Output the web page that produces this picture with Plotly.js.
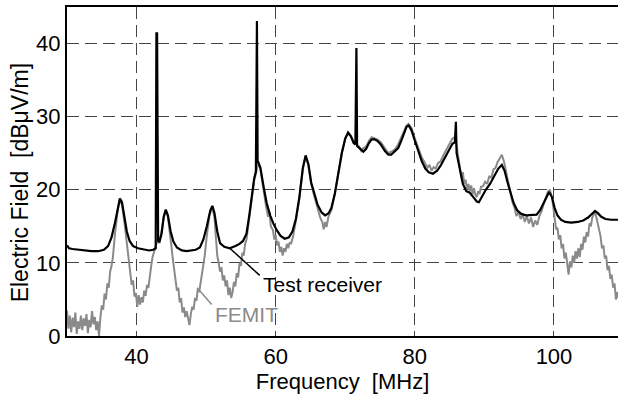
<!DOCTYPE html>
<html>
<head>
<meta charset="utf-8">
<script src="https://cdn.plot.ly/plotly-3.0.1.min.js"></script>
<style>html,body{margin:0;padding:0;background:#fff;overflow:hidden}#chart{width:618px;height:394px}</style>
</head>
<body>
<div id="chart"></div>
<script>
// Test receiver (black)
const freqRx = [30.0,30.3,30.8,31.5,32.5,33.5,34.5,35.3,35.9,36.4,36.9,37.3,37.6,37.9,38.2,38.6,39.0,39.5,40.2,41.0,41.8,42.4,42.75,42.85,42.95,43.1,43.3,43.6,43.9,44.2,44.5,44.9,45.3,45.8,46.5,47.2,47.9,48.5,49.1,49.6,50.1,50.6,50.9,51.2,51.6,52.0,52.6,53.4,54.2,54.8,55.3,55.8,56.2,56.6,56.9,57.15,57.2,57.3,57.4,57.8,58.3,58.7,59.2,59.7,60.2,60.7,61.3,61.9,62.4,62.9,63.4,63.9,64.3,64.7,65.1,65.5,66.0,66.6,67.1,67.6,68.0,68.5,69.0,69.5,70.0,70.4,70.8,71.2,71.45,71.5,71.6,71.7,72.1,72.6,73.0,73.4,73.8,74.2,74.6,75.1,75.7,76.2,76.6,77.1,77.6,78.0,78.4,78.8,79.1,79.5,80.0,80.5,81.0,81.5,82.0,82.6,83.2,83.7,84.2,84.8,85.4,85.75,85.8,85.9,86.0,86.4,86.9,87.4,87.9,88.4,88.9,89.2,89.6,90.2,90.8,91.4,92.0,92.5,92.9,93.3,93.7,94.2,94.7,95.3,96.0,96.8,97.5,98.0,98.5,99.0,99.3,99.7,100.1,100.5,101.0,101.6,102.5,103.4,104.2,104.9,105.5,105.9,106.3,106.8,107.4,108.2,109.2];
const fieldRx = [12.4,12.0,11.9,11.8,11.7,11.6,11.6,11.8,12.3,13.5,15.5,17.5,18.8,18.3,16.5,14.3,13.0,12.3,12.0,11.8,11.7,11.8,12.0,41.4,41.4,13.0,12.9,14.0,16.3,17.3,16.5,14.3,12.9,12.1,11.7,11.6,11.7,11.8,12.1,13.2,15.0,17.2,17.8,16.8,14.3,12.7,12.2,12.0,12.3,12.6,13.0,14.0,16.5,19.5,21.5,22.5,43.1,43.1,24.0,23.0,20.2,18.2,16.5,15.3,14.4,13.7,13.3,13.5,14.3,16.0,19.0,23.0,24.7,23.5,21.0,19.6,18.0,16.9,16.5,16.8,17.5,19.5,22.3,25.0,27.0,27.8,27.3,26.4,26.2,39.4,39.4,26.0,25.6,25.2,25.6,26.4,26.9,26.9,26.7,26.2,25.3,24.8,24.8,25.2,25.7,26.6,27.7,28.6,28.8,28.2,26.7,25.2,23.9,22.9,22.4,22.2,22.6,23.3,24.2,25.3,26.3,26.5,29.3,29.3,25.0,23.0,20.8,19.8,19.6,19.0,18.4,18.3,19.0,20.0,20.8,21.8,22.9,23.4,22.6,21.1,19.7,18.2,17.2,16.7,16.5,16.5,16.6,17.2,18.2,19.3,19.7,19.0,17.5,16.5,15.9,15.6,15.5,15.6,15.8,16.2,16.7,17.1,16.8,16.3,16.0,15.9,15.9];

// FEMIT (grey)
const freqFemit = [30.0,30.2,30.4,30.6,30.8,31.0,31.2,31.4,31.6,31.8,32.0,32.2,32.4,32.6,32.8,33.0,33.2,33.4,33.6,33.8,34.0,34.2,34.4,34.6,34.8,35.0,35.2,35.4,35.6,35.8,36.0,36.2,36.4,36.6,36.9,37.3,37.6,37.9,38.2,38.5,38.7,38.9,39.1,39.3,39.5,39.7,39.9,40.1,40.3,40.5,40.7,40.9,41.1,41.3,41.5,41.7,41.9,42.1,42.3,42.6,42.9,43.2,43.5,43.9,44.2,44.5,44.8,45.0,45.2,45.4,45.6,45.8,46.0,46.2,46.4,46.6,46.8,47.0,47.2,47.4,47.6,47.8,48.0,48.2,48.4,48.6,48.8,49.0,49.2,49.4,49.6,49.8,50.1,50.5,50.9,51.2,51.4,51.6,51.8,52.0,52.2,52.4,52.6,52.8,53.0,53.2,53.4,53.6,53.8,54.0,54.2,54.4,54.6,54.8,55.0,55.2,55.4,55.6,55.8,56.2,56.6,56.9,57.2,57.5,57.8,58.2,58.6,58.9,59.1,59.3,59.6,59.8,60.0,60.2,60.4,60.6,60.8,61.0,61.2,61.4,61.6,61.8,62.0,62.2,62.5,62.9,63.4,63.9,64.3,64.7,65.1,65.5,66.0,66.4,66.7,66.9,67.1,67.3,67.6,68.0,68.5,69.0,69.5,70.0,70.4,70.8,71.2,71.6,72.0,72.3,72.6,73.0,73.4,73.8,74.2,74.6,75.1,75.7,76.2,76.6,77.1,77.6,78.0,78.4,78.8,79.1,79.5,80.0,80.5,81.0,81.5,81.8,82.1,82.4,82.7,83.0,83.3,83.7,84.2,84.8,85.4,85.8,86.1,86.4,86.7,86.9,87.1,87.3,87.5,87.7,87.9,88.1,88.3,88.5,88.7,88.9,89.1,89.3,89.5,89.8,90.1,90.4,90.7,91.0,91.3,91.6,91.9,92.2,92.5,92.8,93.1,93.4,93.7,94.0,94.3,94.6,94.9,95.2,95.5,95.8,96.1,96.4,96.7,97.0,97.3,97.6,97.9,98.2,98.5,98.8,99.1,99.4,99.7,99.9,100.1,100.3,100.5,100.7,100.9,101.1,101.3,101.5,101.7,101.9,102.1,102.3,102.5,102.7,102.9,103.1,103.3,103.5,103.7,103.9,104.1,104.3,104.5,104.7,104.9,105.1,105.3,105.5,105.7,105.9,106.1,106.3,106.5,106.7,106.9,107.1,107.3,107.5,107.7,107.9,108.1,108.3,108.5,108.7,108.9,109.1,109.2];
const fieldFemit = [3.5,1.0,2.8,0.5,2.5,1.2,3.2,0.3,2.0,1.0,2.8,0.8,2.4,1.4,3.0,0.4,2.2,1.2,3.4,1.6,2.6,0.8,2.0,0.0,2.5,4.2,3.6,5.8,5.0,7.2,6.6,8.8,9.6,10.8,14.0,17.3,18.6,18.0,16.0,13.5,11.5,9.4,8.6,7.0,7.6,5.4,5.9,4.0,5.6,4.3,5.3,4.6,6.2,5.5,7.0,6.6,8.5,9.6,10.8,12.0,12.8,12.8,13.8,16.2,17.2,16.3,14.2,12.4,10.6,9.0,8.0,6.2,6.6,4.6,5.2,3.2,3.9,2.6,3.4,2.2,1.5,3.0,4.0,3.6,5.2,4.8,6.4,6.0,7.2,8.5,9.8,11.0,13.8,16.6,17.6,16.2,13.5,11.0,10.0,8.8,9.4,7.6,8.3,6.8,7.6,5.6,6.6,5.2,6.0,7.4,6.8,8.6,8.0,10.0,9.6,11.4,11.0,12.6,13.2,16.2,19.2,21.3,22.4,23.8,22.8,20.0,17.8,16.3,17.0,15.0,14.5,13.2,13.8,12.4,12.9,11.5,12.2,11.0,12.0,11.5,12.6,12.0,12.8,12.6,13.6,15.8,18.8,22.8,24.6,23.3,20.8,19.3,17.5,16.2,15.6,14.6,15.6,14.9,16.4,17.2,19.4,22.3,25.1,27.1,27.9,27.4,26.6,26.2,25.9,25.3,25.7,25.9,26.7,27.2,27.1,26.9,26.5,25.6,25.0,25.2,25.5,26.2,27.1,27.9,28.8,29.0,28.5,27.0,25.6,24.4,23.6,23.0,23.4,22.6,23.1,22.9,23.6,23.9,24.9,26.0,27.0,27.2,25.0,23.5,21.6,22.4,20.8,21.4,20.0,20.8,19.8,20.6,19.4,20.2,19.3,19.0,19.8,19.4,20.4,20.5,21.1,20.8,21.9,21.6,22.8,23.0,23.8,24.3,24.8,23.9,22.5,21.0,19.4,18.4,17.6,16.4,17.0,16.0,16.6,15.6,16.4,15.4,16.2,14.9,15.8,15.2,16.4,17.0,18.0,18.8,19.7,20.0,19.0,17.6,15.8,14.6,14.8,13.2,13.8,12.0,12.6,10.6,11.4,9.6,8.4,10.2,9.4,11.0,10.0,11.6,10.6,12.0,10.8,12.6,11.8,13.6,12.8,14.2,13.6,15.4,15.0,16.2,16.6,17.0,16.2,15.4,14.2,13.6,12.0,12.4,10.6,11.0,9.0,9.6,7.8,8.4,6.6,7.2,5.0,6.0,5.2];

const xTicks = [40, 60, 80, 100];
const yTicks = [0, 10, 20, 30, 40];

const FONT = '"Liberation Sans", Arial, sans-serif';

const traces = [
  {x: freqFemit, y: fieldFemit, type: 'scatter', mode: 'lines', name: 'FEMIT',
   line: {color: '#8a8a8a', width: 2}, hoverinfo: 'skip'},
  {x: freqRx, y: fieldRx, type: 'scatter', mode: 'lines', name: 'Test receiver',
   line: {color: '#000000', width: 2.2}, hoverinfo: 'skip'}
];

const layout = {
  width: 618, height: 394,
  margin: {l: 67, r: 0, t: 7, b: 58},
  paper_bgcolor: '#ffffff', plot_bgcolor: '#ffffff',
  showlegend: false,
  font: {family: FONT, size: 22, color: '#000'},
  xaxis: {
    range: [30, 109.2], tickvals: xTicks, ticktext: xTicks.map(String),
    showgrid: true, gridcolor: '#444', gridwidth: 1, griddash: '12px,6px',
    showline: true, linecolor: '#000', linewidth: 2, mirror: true,
    ticks: '', zeroline: false,
    tickfont: {family: FONT, size: 22, color: '#000'},
    title: {text: 'Frequency\u00a0\u00a0[MHz]', font: {family: FONT, size: 22, color: '#000'}, standoff: 4}
  },
  yaxis: {
    range: [0, 45], tickvals: yTicks, ticktext: yTicks.map(String),
    showgrid: true, gridcolor: '#444', gridwidth: 1, griddash: '12px,6px',
    showline: true, linecolor: '#000', linewidth: 2, mirror: false,
    ticks: '', zeroline: false, ticklabelstandoff: 0,
    tickfont: {family: FONT, size: 22, color: '#000'}
  },
  shapes: [
    {type: 'line', xref: 'x', yref: 'y', x0: 53.4, y0: 12.0, x1: 57.7, y1: 8.3,
     line: {color: '#000', width: 1.5}},
    {type: 'line', xref: 'x', yref: 'y', x0: 48.7, y0: 6.6, x1: 50.8, y1: 4.3,
     line: {color: '#8a8a8a', width: 1.5}}
  ],
  annotations: [
    {x: -0.085, y: 20.9, xref: 'paper', yref: 'y', text: 'Electric Field\u00a0\u00a0[dB\u03bcV/m]',
     textangle: -90, showarrow: false, xanchor: 'center', yanchor: 'middle',
     font: {family: FONT, size: 23, color: '#000'}},
    {x: 57.95, y: 7.1, xref: 'x', yref: 'y', text: 'Test receiver', showarrow: false,
     xanchor: 'left', yanchor: 'middle', font: {family: FONT, size: 21, color: '#000'}},
    {x: 51.0, y: 3.0, xref: 'x', yref: 'y', text: 'FEMIT', showarrow: false,
     xanchor: 'left', yanchor: 'middle', font: {family: FONT, size: 21, color: '#8a8a8a'}}
  ]
};

Plotly.newPlot('chart', traces, layout, {staticPlot: true, displayModeBar: false});
</script>
</body>
</html>
